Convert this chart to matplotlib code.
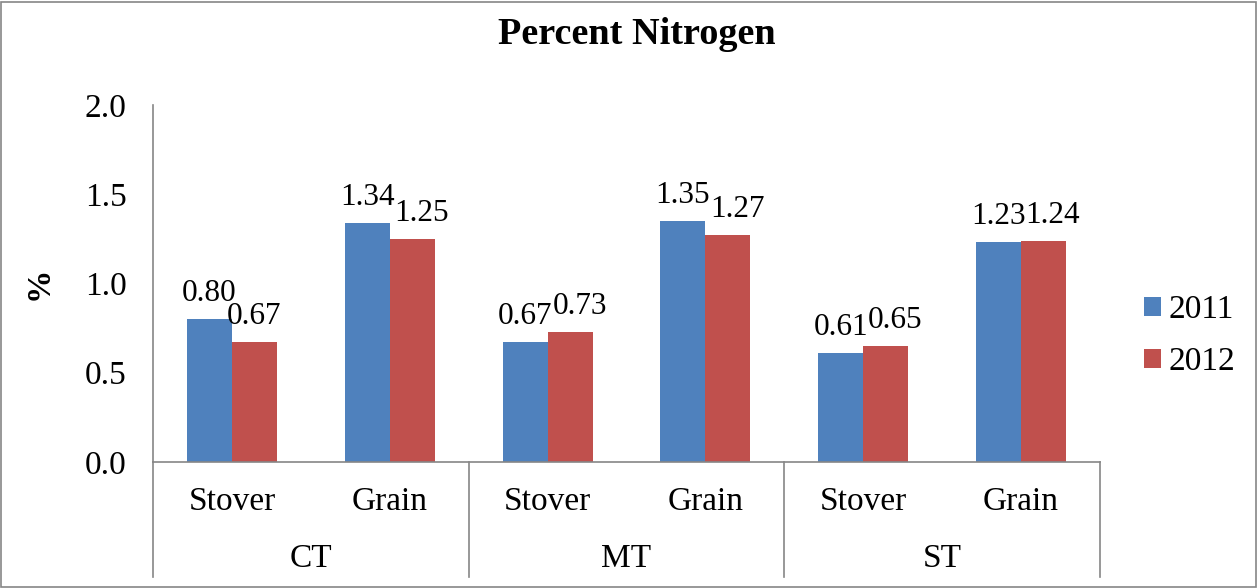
import matplotlib
matplotlib.use("Agg")
import matplotlib.pyplot as plt
from matplotlib.patches import Rectangle
from matplotlib.lines import Line2D
import numpy as np

plt.rcParams['font.family'] = ['Liberation Serif', 'DejaVu Serif']

groups = ["CT", "MT", "ST"]
parts = ["Stover", "Grain"]
series_names = ["2011", "2012"]
vals_2011 = [0.80, 1.34, 0.67, 1.35, 0.61, 1.23]
vals_2012 = [0.67, 1.25, 0.73, 1.27, 0.65, 1.24]
yticks = [0.0, 0.5, 1.0, 1.5, 2.0]
colors = ["#4F81BD", "#C0504D"]
gray = "#868686"
FS = 24

W, H = 1257, 588
fig = plt.figure(figsize=(W/100, H/100), dpi=100)
ax = fig.add_axes([153/W, 1-462/H, (1100-153)/W, (462-105)/H])

n = len(vals_2011)
x = np.arange(n)
bw = 0.285
b1 = ax.bar(x - bw/2, vals_2011, bw, color=colors[0], label=series_names[0])
b2 = ax.bar(x + bw/2, vals_2012, bw, color=colors[1], label=series_names[1])
for i in range(n):
    v1, v2 = vals_2011[i], vals_2012[i]
    close = abs(v1 - v2) < 0.1   # labels would collide: push the 2012 label aside
    for r, v, dx in ((b1[i], v1, 0), (b2[i], v2, 6.8 if close else 0)):
        ax.annotate(f"{v:.2f}", xy=(r.get_x() + r.get_width()/2, v + 0.062),
                    xytext=(dx, 0), textcoords='offset points',
                    ha='center', va='bottom', fontsize=22.5)

ax.set_xlim(-0.5, n - 0.5)
ax.set_ylim(0, 2.0)
ax.set_yticks(yticks)
ax.set_yticklabels([f"{t:.1f}" for t in yticks], fontsize=FS)
ax.tick_params(axis='y', length=0, pad=19)
ax.set_xticks([])
for s in ['top', 'right']:
    ax.spines[s].set_visible(False)
for s in ['left', 'bottom']:
    ax.spines[s].set_color(gray)
    ax.spines[s].set_linewidth(1.2)

fig.text(39/W, 1-283/H, "%", rotation=90, ha='center', va='center',
         fontsize=FS, fontweight='bold')

# multi-level category axis
trans = ax.get_xaxis_transform()
for i in range(n):
    ax.text(i, -0.11, parts[i % 2], transform=trans, ha='center', va='center', fontsize=FS)
for g, name in enumerate(groups):
    ax.text(2*g + 0.5, -0.27, name, transform=trans, ha='center', va='center', fontsize=FS)
for b in [-0.5, 1.5, 3.5, 5.5]:
    ax.add_line(Line2D([b, b], [0, -0.322], transform=trans, color=gray, lw=1.2, clip_on=False))

fig.text(637/W, 1-35/H, "Percent Nitrogen", ha='center', va='center', fontsize=27.5, fontweight='bold')

leg = fig.legend(handles=[b1, b2], labels=series_names, loc='center left',
                 bbox_to_anchor=(1144/W, 1-336/H), frameon=False, fontsize=FS,
                 borderaxespad=0, borderpad=0,
                 handlelength=0.5, handleheight=0.5, handletextpad=0.25, labelspacing=0.65)

fig.patches.append(Rectangle((1/W, 1/H), 1-2/W, 1-3/H, transform=fig.transFigure,
                             fill=False, edgecolor=gray, lw=1.2))

fig.savefig("out.png", dpi=100)
